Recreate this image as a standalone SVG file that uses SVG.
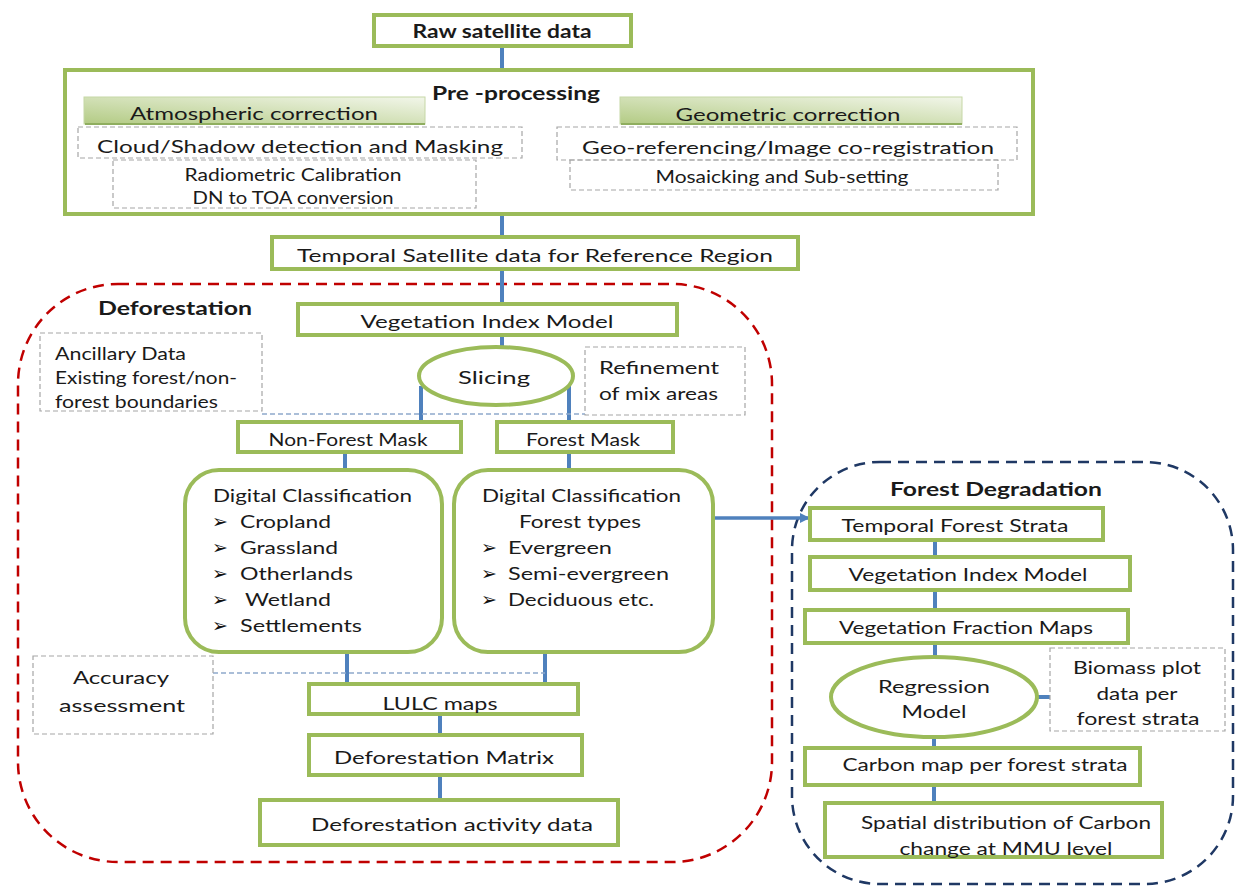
<svg xmlns="http://www.w3.org/2000/svg" width="1235" height="886" viewBox="0 0 1235 886">
<defs>
<linearGradient id="bar" x1="0" y1="1" x2="1" y2="0">
<stop offset="0" stop-color="#b3cb84"/>
<stop offset="1" stop-color="#f2f6ea"/>
</linearGradient>
<marker id="arr" markerWidth="10" markerHeight="10" refX="8" refY="5" orient="auto" markerUnits="userSpaceOnUse">
<path d="M0,0 L10,5 L0,10 z" fill="#4f81bd"/>
</marker>
<style>
.box{fill:#fff;stroke:#9bbb59;stroke-width:4}
.dash{fill:none;stroke:#a6a6a6;stroke-width:1.2;stroke-dasharray:5 3}
.bar{fill:url(#bar);stroke:#c6d7a6;stroke-width:1}
.c{stroke:#4f81bd;stroke-width:4;fill:none}
.t{font-family:Lato,"Liberation Sans",sans-serif;fill:#1a1a1a;font-size:18px}
.m{text-anchor:middle}
.b{font-weight:bold}
.bul{font-family:"DejaVu Sans",sans-serif;font-size:19px;fill:#111}
</style>
</defs>
<rect width="1235" height="886" fill="#fff"/>

<g id="regions">
<rect x="18" y="284" width="754" height="578" rx="100" fill="none" stroke="#c00000" stroke-width="2.5" stroke-dasharray="11 7"/>
<rect x="792" y="462" width="441" height="422" rx="88" fill="none" stroke="#1f3864" stroke-width="2.5" stroke-dasharray="11 7"/>
</g>

<g id="connectors">
<line class="c" x1="502" y1="46" x2="502" y2="70"/>
<line class="c" x1="502" y1="214" x2="502" y2="237"/>
<line class="c" x1="502" y1="269" x2="502" y2="304"/>
<line class="c" x1="502" y1="335" x2="502" y2="346"/>
<line class="c" x1="421" y1="386" x2="421" y2="423"/>
<line class="c" x1="569" y1="386" x2="569" y2="423"/>
<line x1="262" y1="414" x2="585" y2="414" stroke="#8ea9cc" stroke-width="1.3" stroke-dasharray="5 3"/>
<line class="c" x1="345" y1="452" x2="345" y2="471"/>
<line class="c" x1="569" y1="452" x2="569" y2="471"/>
<line class="c" x1="347" y1="653" x2="347" y2="685"/>
<line class="c" x1="545" y1="653" x2="545" y2="685"/>
<line x1="213" y1="673" x2="545" y2="673" stroke="#8ea9cc" stroke-width="1.3" stroke-dasharray="5 3"/>
<line class="c" x1="440" y1="714" x2="440" y2="736"/>
<line class="c" x1="440" y1="775" x2="440" y2="801"/>
<line x1="713" y1="518" x2="808" y2="518" stroke="#4f81bd" stroke-width="3.5" marker-end="url(#arr)"/>
<line class="c" x1="935" y1="540" x2="935" y2="558"/>
<line class="c" x1="935" y1="590" x2="935" y2="611"/>
<line class="c" x1="935" y1="643" x2="935" y2="658"/>
<line class="c" x1="1038" y1="697" x2="1050" y2="697"/>
<line class="c" x1="934" y1="737" x2="934" y2="749"/>
<line class="c" x1="934" y1="785" x2="934" y2="804"/>
</g>

<g id="raw">
<rect class="box" x="374" y="15" width="257" height="31"/>
<text class="t m b" x="502" y="38" font-size="17" textLength="179" lengthAdjust="spacingAndGlyphs">Raw satellite data</text>
</g>

<g id="preprocessing">
<rect class="box" x="65" y="70" width="968" height="144"/>
<text class="t m b" x="516" y="100" font-size="19" textLength="168" lengthAdjust="spacingAndGlyphs">Pre -processing</text>
</g>
<g id="atmospheric">
<rect class="bar" x="84" y="97" width="341" height="27"/>
<line x1="85" y1="124" x2="425" y2="124" stroke="#8fae5f" stroke-width="2"/>
<text class="t m" x="254" y="120" font-size="20" textLength="248" lengthAdjust="spacingAndGlyphs">Atmospheric correction</text>
</g>
<g id="geometric">
<rect class="bar" x="620" y="97" width="342" height="27"/>
<line x1="621" y1="124" x2="962" y2="124" stroke="#8fae5f" stroke-width="2"/>
<text class="t m" x="788" y="121" font-size="20" textLength="225" lengthAdjust="spacingAndGlyphs">Geometric correction</text>
</g>
<g id="cloud">
<rect class="dash" x="78" y="127" width="444" height="31"/>
<text class="t m" x="300" y="153" font-size="21" textLength="406" lengthAdjust="spacingAndGlyphs">Cloud/Shadow detection and Masking</text>
</g>
<g id="georef">
<rect class="dash" x="557" y="127" width="460" height="33"/>
<text class="t m" x="788" y="154" font-size="21" textLength="412" lengthAdjust="spacingAndGlyphs">Geo-referencing/Image co-registration</text>
</g>
<g id="radiometric">
<rect class="dash" x="113" y="160" width="363" height="48"/>
<text class="t m" x="293" y="181" font-size="17" textLength="217" lengthAdjust="spacingAndGlyphs">Radiometric Calibration</text>
<text class="t m" x="293" y="204" font-size="17" textLength="201" lengthAdjust="spacingAndGlyphs">DN to TOA conversion</text>
</g>
<g id="mosaicking">
<rect class="dash" x="570" y="160" width="428" height="30"/>
<text class="t m" x="782" y="183" font-size="17" textLength="253" lengthAdjust="spacingAndGlyphs">Mosaicking and Sub-setting</text>
</g>

<g id="temporal">
<rect class="box" x="272" y="237" width="526" height="32"/>
<text class="t m" x="535" y="262" font-size="20" textLength="476" lengthAdjust="spacingAndGlyphs">Temporal Satellite data for Reference Region</text>
</g>

<g id="deforestation-label">
<text class="t b" x="98" y="315" font-size="19" textLength="154" lengthAdjust="spacingAndGlyphs">Deforestation</text>
</g>

<g id="vim">
<rect class="box" x="298" y="304" width="379" height="31"/>
<text class="t m" x="487" y="328" font-size="20" textLength="253" lengthAdjust="spacingAndGlyphs">Vegetation Index Model</text>
</g>

<g id="ancillary">
<rect class="dash" x="40" y="333" width="222" height="78"/>
<text class="t" x="55" y="360" font-size="18" textLength="131" lengthAdjust="spacingAndGlyphs">Ancillary Data</text>
<text class="t" x="55" y="384" font-size="18" textLength="182" lengthAdjust="spacingAndGlyphs">Existing forest/non-</text>
<text class="t" x="55" y="408" font-size="18" textLength="163" lengthAdjust="spacingAndGlyphs">forest boundaries</text>
</g>

<g id="slicing">
<ellipse cx="496" cy="376" rx="77" ry="29" fill="#fff" stroke="#9bbb59" stroke-width="4"/>
<text class="t m" x="494" y="384" font-size="19" textLength="72" lengthAdjust="spacingAndGlyphs">Slicing</text>
</g>

<g id="refinement">
<rect class="dash" x="585" y="347" width="160" height="68"/>
<text class="t" x="599" y="374" font-size="18" textLength="120" lengthAdjust="spacingAndGlyphs">Refinement</text>
<text class="t" x="599" y="400" font-size="18" textLength="119" lengthAdjust="spacingAndGlyphs">of mix areas</text>
</g>

<g id="nonforest">
<rect class="box" x="238" y="422" width="223" height="30"/>
<text class="t m" x="348" y="446" font-size="18" textLength="159" lengthAdjust="spacingAndGlyphs">Non-Forest Mask</text>
</g>
<g id="forestmask">
<rect class="box" x="497" y="422" width="176" height="30"/>
<text class="t m" x="583" y="446" font-size="18" textLength="114" lengthAdjust="spacingAndGlyphs">Forest Mask</text>
</g>

<g id="dc-nonforest">
<rect class="box" x="185" y="470" width="257" height="182" rx="34"/>
<text class="t" x="213" y="502" font-size="19" textLength="199" lengthAdjust="spacingAndGlyphs">Digital Classification</text>
<text class="bul" x="212" y="528">➢</text><text class="t" x="240" y="528" font-size="19" textLength="91" lengthAdjust="spacingAndGlyphs">Cropland</text>
<text class="bul" x="212" y="554">➢</text><text class="t" x="240" y="554" font-size="19" textLength="98" lengthAdjust="spacingAndGlyphs">Grassland</text>
<text class="bul" x="212" y="580">➢</text><text class="t" x="240" y="580" font-size="19" textLength="113" lengthAdjust="spacingAndGlyphs">Otherlands</text>
<text class="bul" x="212" y="606">➢</text><text class="t" x="245" y="606" font-size="19" textLength="86" lengthAdjust="spacingAndGlyphs">Wetland</text>
<text class="bul" x="212" y="632">➢</text><text class="t" x="240" y="632" font-size="19" textLength="122" lengthAdjust="spacingAndGlyphs">Settlements</text>
</g>

<g id="dc-forest">
<rect class="box" x="454" y="470" width="259" height="182" rx="34"/>
<text class="t" x="482" y="502" font-size="19" textLength="199" lengthAdjust="spacingAndGlyphs">Digital Classification</text>
<text class="t" x="519" y="528" font-size="19" textLength="122" lengthAdjust="spacingAndGlyphs">Forest types</text>
<text class="bul" x="481" y="554">➢</text><text class="t" x="508" y="554" font-size="19" textLength="104" lengthAdjust="spacingAndGlyphs">Evergreen</text>
<text class="bul" x="481" y="580">➢</text><text class="t" x="508" y="580" font-size="19" textLength="161" lengthAdjust="spacingAndGlyphs">Semi-evergreen</text>
<text class="bul" x="481" y="606">➢</text><text class="t" x="508" y="606" font-size="19" textLength="146" lengthAdjust="spacingAndGlyphs">Deciduous etc.</text>
</g>

<g id="accuracy">
<rect class="dash" x="33" y="656" width="180" height="78"/>
<text class="t m" x="121" y="684" font-size="19" textLength="96" lengthAdjust="spacingAndGlyphs">Accuracy</text>
<text class="t m" x="122" y="712" font-size="19" textLength="126" lengthAdjust="spacingAndGlyphs">assessment</text>
</g>

<g id="lulc">
<rect class="box" x="309" y="684" width="269" height="30"/>
<text class="t m" x="440" y="710" font-size="19" textLength="115" lengthAdjust="spacingAndGlyphs">LULC maps</text>
</g>
<g id="matrix">
<rect class="box" x="309" y="735" width="273" height="40"/>
<text class="t m" x="444" y="764" font-size="20" textLength="220" lengthAdjust="spacingAndGlyphs">Deforestation Matrix</text>
</g>
<g id="activity">
<rect class="box" x="260" y="800" width="358" height="45"/>
<text class="t m" x="452" y="831" font-size="20" textLength="282" lengthAdjust="spacingAndGlyphs">Deforestation activity data</text>
</g>

<g id="degradation-label">
<text class="t m b" x="996" y="496" font-size="18" textLength="212" lengthAdjust="spacingAndGlyphs">Forest Degradation</text>
</g>
<g id="tfs">
<rect class="box" x="810" y="508" width="293" height="32"/>
<text class="t m" x="955" y="532" font-size="18" textLength="227" lengthAdjust="spacingAndGlyphs">Temporal Forest Strata</text>
</g>
<g id="vim2">
<rect class="box" x="810" y="557" width="320" height="33"/>
<text class="t m" x="968" y="581" font-size="18" textLength="239" lengthAdjust="spacingAndGlyphs">Vegetation Index Model</text>
</g>
<g id="vfm">
<rect class="box" x="805" y="610" width="323" height="33"/>
<text class="t m" x="966" y="634" font-size="18" textLength="254" lengthAdjust="spacingAndGlyphs">Vegetation Fraction Maps</text>
</g>
<g id="regression">
<ellipse cx="934" cy="697" rx="103" ry="40" fill="#fff" stroke="#9bbb59" stroke-width="4"/>
<text class="t m" x="934" y="693" font-size="18" textLength="112" lengthAdjust="spacingAndGlyphs">Regression</text>
<text class="t m" x="934" y="718" font-size="18" textLength="65" lengthAdjust="spacingAndGlyphs">Model</text>
</g>
<g id="biomass">
<rect class="dash" x="1050" y="648" width="175" height="83"/>
<text class="t m" x="1137" y="674" font-size="18" textLength="128" lengthAdjust="spacingAndGlyphs">Biomass plot</text>
<text class="t m" x="1137" y="700" font-size="18" textLength="81" lengthAdjust="spacingAndGlyphs">data per</text>
<text class="t m" x="1138" y="725" font-size="18" textLength="123" lengthAdjust="spacingAndGlyphs">forest strata</text>
</g>
<g id="carbon">
<rect class="box" x="805" y="748" width="335" height="37"/>
<text class="t m" x="985" y="771" font-size="18" textLength="285" lengthAdjust="spacingAndGlyphs">Carbon map per forest strata</text>
</g>
<g id="spatial">
<rect class="box" x="825" y="803" width="337" height="54"/>
<text class="t m" x="1006" y="829" font-size="18" textLength="290" lengthAdjust="spacingAndGlyphs">Spatial distribution of Carbon</text>
<text class="t m" x="1006" y="855" font-size="18" textLength="213" lengthAdjust="spacingAndGlyphs">change at MMU  level</text>
</g>
</svg>
